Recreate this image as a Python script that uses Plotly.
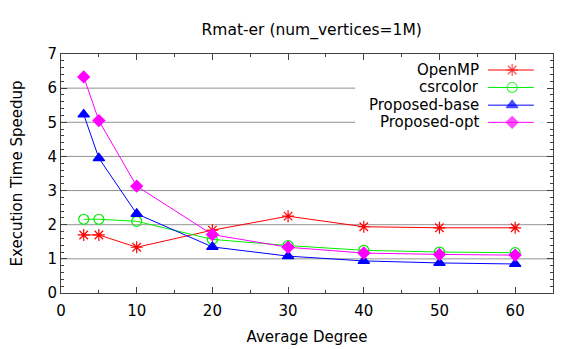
import plotly.graph_objects as go

degrees = [3, 5, 10, 20, 30, 40, 50, 60]
openmp = [1.70, 1.70, 1.34, 1.84, 2.25, 1.94, 1.91, 1.91]
csrcolor = [2.16, 2.16, 2.10, 1.57, 1.39, 1.25, 1.20, 1.18]
proposed_base = [5.23, 3.95, 2.32, 1.35, 1.08, 0.94, 0.88, 0.85]
proposed_opt = [6.33, 5.05, 3.13, 1.71, 1.34, 1.17, 1.13, 1.11]

series_names = ["OpenMP", "csrcolor", "Proposed-base", "Proposed-opt"]
series_values = [openmp, csrcolor, proposed_base, proposed_opt]
colors = ["#ff0000", "#00ee00", "#0000ff", "#ff00ff"]
symbols = ["asterisk-open", "circle-open", "triangle-up", "diamond"]
sizes = [10, 10, 10, 9]

x_ticks = [0, 10, 20, 30, 40, 50, 60]
y_ticks = [0, 1, 2, 3, 4, 5, 6, 7]
grid_levels = [1, 2, 3, 4, 5, 6]

FONT = "DejaVu Sans"
FS = 15
fig = go.Figure()

for name, vals, c, s, sz in zip(series_names, series_values, colors, symbols, sizes):
    fig.add_trace(go.Scatter(
        x=degrees, y=vals, mode="lines+markers", name=name,
        line=dict(color=c, width=1),
        marker=dict(symbol=s, size=sz, color=c, line=dict(color=c, width=1.2)),
        showlegend=False,
    ))

# horizontal grid lines (gnuplot opaque legend box interrupts the top ones)
legend_left = 0.598
for g in grid_levels:
    x1 = legend_left if g >= 5 else 1.0
    fig.add_shape(type="line", xref="x domain", yref="y", x0=0, x1=x1, y0=g, y1=g,
                  line=dict(color="#929292", width=1), layer="below")

# custom gnuplot-style legend (text on the left, sample on the right)
leg_rows = [0.933, 0.860, 0.786, 0.714]
for name, c, s, sz, ry in zip(series_names, colors, symbols, sizes, leg_rows):
    fig.add_trace(go.Scatter(
        x=[0.868, 0.917, 0.961], y=[ry, ry, ry], mode="lines+markers",
        xaxis="x2", yaxis="y2", showlegend=False, hoverinfo="skip",
        line=dict(color=c, width=1),
        marker=dict(symbol=s, size=[0, sz, 0], color=c, line=dict(color=c, width=1.2)),
    ))
    fig.add_annotation(x=0.854, y=ry, xref="x2", yref="y2", text=name,
                       showarrow=False, xanchor="right", yanchor="middle",
                       font=dict(family=FONT, size=FS, color="#000"))

axis_common = dict(showline=True, linecolor="#404040", linewidth=1, mirror="allticks",
                   ticks="inside", ticklen=6, tickcolor="#404040", zeroline=False,
                   automargin=False, showgrid=False,
                   tickfont=dict(family=FONT, size=FS, color="#000"))

fig.update_layout(
    width=581, height=349,
    margin=dict(l=53, r=36, t=46, b=64),
    paper_bgcolor="white", plot_bgcolor="white",
    title=dict(text="Rmat-er (num_vertices=1M)", x=0.5227, xanchor="center", xref="container",
               y=0.937, yanchor="middle", yref="container",
               font=dict(family=FONT, size=15.5, color="#000")),
    font=dict(family=FONT, color="#000"),
    xaxis=dict(range=[0, 65], tickvals=x_ticks, ticklabelstandoff=4,
               minor=dict(ticks="inside", dtick=5, ticklen=3, tickcolor="#404040"),
               title=dict(text="Average Degree", font=dict(family=FONT, size=FS), standoff=12),
               **axis_common),
    yaxis=dict(range=[0, 7], tickvals=y_ticks,
               minor=dict(ticks="inside", dtick=0.2, ticklen=3, tickcolor="#404040"),
               title=dict(text="Execution Time Speedup", font=dict(family=FONT, size=FS), standoff=24),
               **axis_common),
    xaxis2=dict(range=[0, 1], overlaying="x", visible=False, showgrid=False),
    yaxis2=dict(range=[0, 1], overlaying="y", visible=False, showgrid=False),
)

fig.write_html("out.html")
